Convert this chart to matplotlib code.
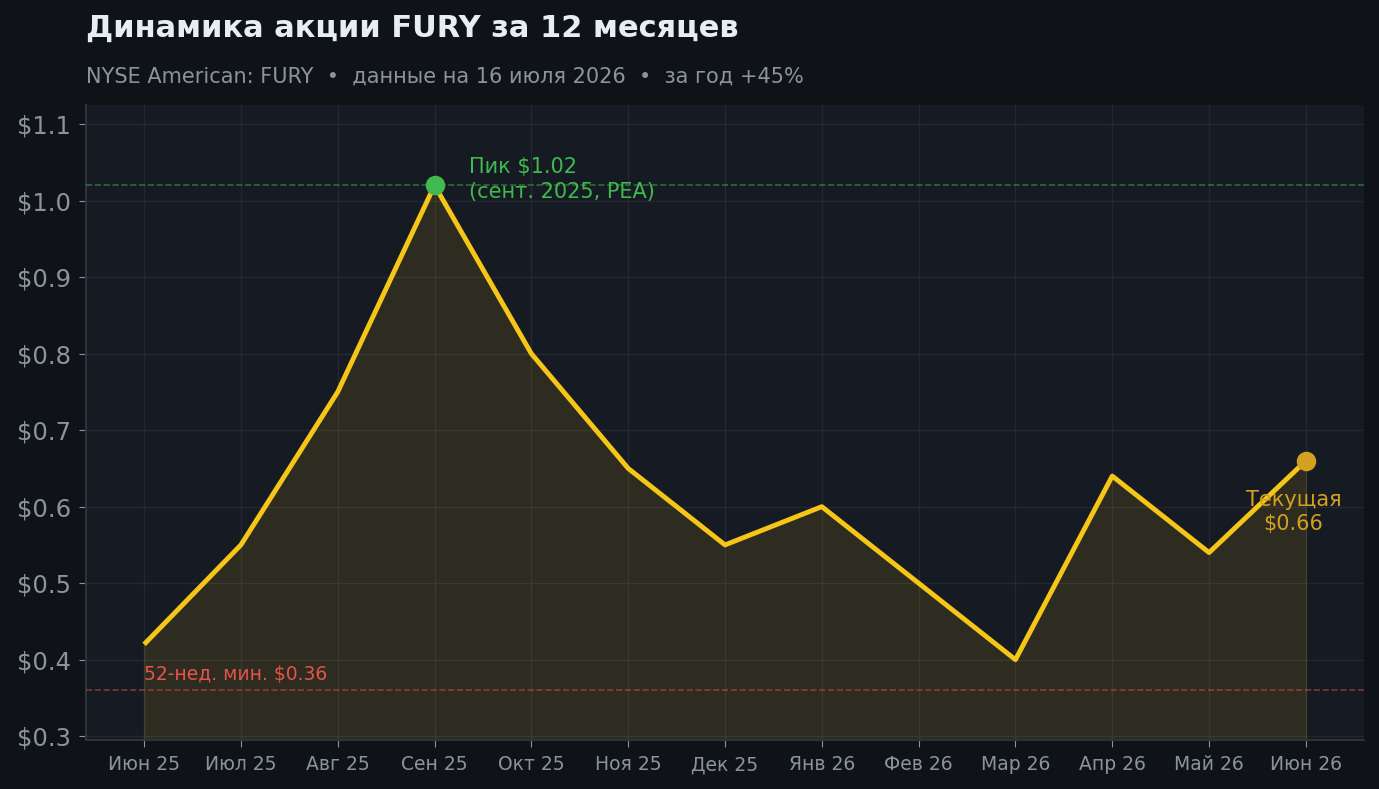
import numpy as np
import matplotlib.pyplot as plt

plt.rcParams['font.family'] = ['DejaVu Sans']

months = ["Июн 25", "Июл 25", "Авг 25", "Сен 25", "Окт 25", "Ноя 25", "Дек 25",
          "Янв 26", "Фев 26", "Мар 26", "Апр 26", "Май 26", "Июн 26"]
price = [0.42, 0.55, 0.75, 1.02, 0.80, 0.65, 0.55, 0.60, 0.50, 0.40, 0.64, 0.54, 0.66]
peak_idx = 3
peak_val = 1.02
low_52w = 0.36
yticks = [0.3, 0.4, 0.5, 0.6, 0.7, 0.8, 0.9, 1.0, 1.1]

bg = "#0f1317"
ax_bg = "#161a22"
txt = "#8b949e"
yellow = "#f5c518"
green = "#3fb950"
gold = "#d4a020"
red = "#e5534b"

fig = plt.figure(figsize=(13.79, 7.89), dpi=100, facecolor=bg)
ax = fig.add_axes([86/1379, 1-740/789, (1364-86)/1379, (740-105)/789])
ax.set_facecolor(ax_bg)

x = np.arange(len(price))
ax.fill_between(x, price, 0.295, color=yellow, alpha=0.11, zorder=2)
ax.plot(x, price, color=yellow, lw=3.5, zorder=4, solid_capstyle="butt")

ax.axhline(peak_val, color=green, lw=1.2, ls="--", alpha=0.5, zorder=3)
ax.axhline(low_52w, color=red, lw=1.2, ls="--", alpha=0.5, zorder=3)

ax.scatter([peak_idx], [peak_val], s=170, color=green, zorder=5)
ax.scatter([x[-1]], [price[-1]], s=170, color=gold, zorder=5)

ax.text(peak_idx + 0.36, peak_val + 0.008, "Пик $1.02\n(сент. 2025, PEA)", color=green,
        fontsize=15, va="center", ha="left", linespacing=1.3, zorder=6)
ax.text(x[-1] - 0.13, 0.593, "Текущая\n$0.66", color=gold, fontsize=15,
        va="center", ha="center", linespacing=1.3, zorder=6)
ax.text(0, low_52w + 0.008, "52-нед. мин. $0.36", color=red, fontsize=13.5,
        va="bottom", ha="left", zorder=6)

ax.set_xlim(-0.6, 12.6)
ax.set_ylim(0.295, 1.125)
ax.set_xticks(x)
ax.set_xticklabels(months)
ax.set_yticks(yticks)
ax.set_yticklabels(["$%.1f" % v for v in yticks])
ax.tick_params(axis="x", colors=txt, labelsize=13.5, length=5, pad=6)
ax.tick_params(axis="y", colors=txt, labelsize=17.5, length=5, pad=6)
ax.grid(True, color="#2a2f38", lw=1, alpha=0.7, zorder=1)
for s in ["top", "right"]:
    ax.spines[s].set_visible(False)
for s in ["left", "bottom"]:
    ax.spines[s].set_color("#2d333b")
    ax.spines[s].set_linewidth(1.5)

fig.text(86/1379, 1-28/789, "Динамика акции FURY за 12 месяцев", color="#e6edf3",
         fontsize=22, fontweight="bold", va="center", ha="left")
fig.text(86/1379, 1-77/789, "NYSE American: FURY  •  данные на 16 июля 2026  •  за год +45%",
         color=txt, fontsize=15, va="center", ha="left")

fig.savefig("out.png", dpi=100, facecolor=bg)
